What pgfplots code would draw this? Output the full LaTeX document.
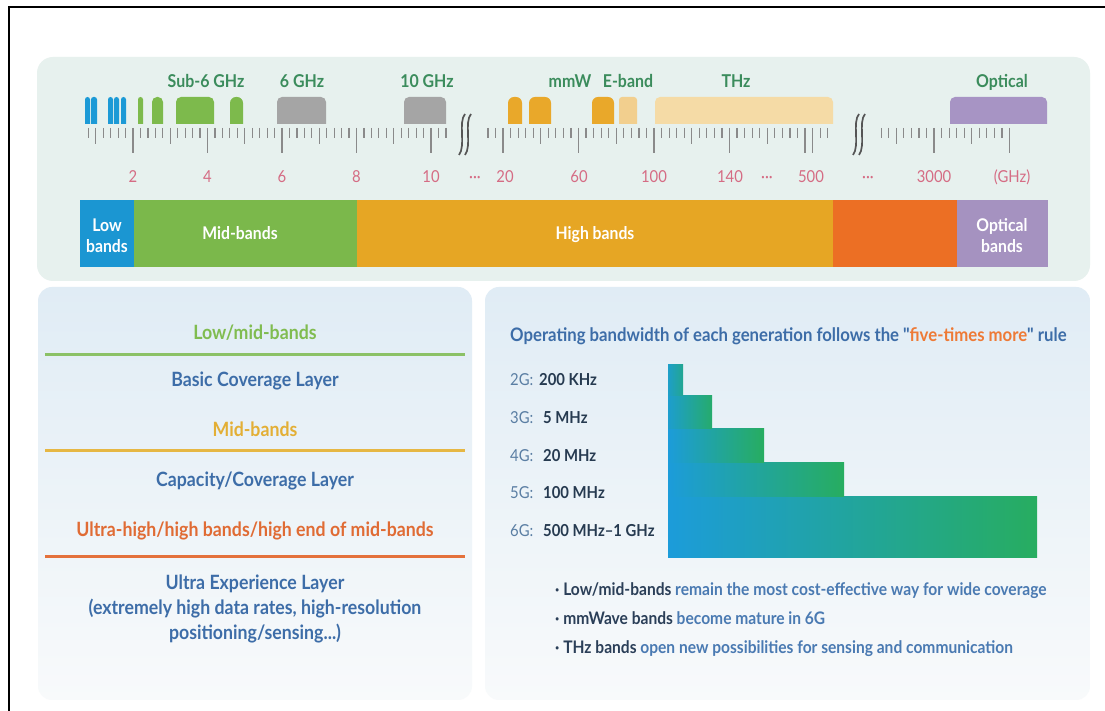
\documentclass[border=0pt]{standalone}
\usepackage{fontspec}
\setmainfont{Lato}[FakeStretch=0.9, Ligatures=TeXOff]
\usepackage{pgfplots}
\pgfplotsset{compat=1.18}
\definecolor{mint}{HTML}{E7F1EE}
\definecolor{lpTop}{HTML}{E0ECF5}
\definecolor{lpBot}{HTML}{F8FAFB}
\definecolor{tickc}{HTML}{8A8A8A}
\definecolor{breakc}{HTML}{555555}
\definecolor{ticklab}{HTML}{D56C84}
\definecolor{toplab}{HTML}{3B8C5C}
\definecolor{bblue}{HTML}{1C9AD6}
\definecolor{bgreen}{HTML}{7DBA4C}
\definecolor{bgrey}{HTML}{A5A5A5}
\definecolor{borange}{HTML}{E9A82A}
\definecolor{blight}{HTML}{F2CF8E}
\definecolor{bthz}{HTML}{F5DBA6}
\definecolor{bpurple}{HTML}{A794C4}
\definecolor{catlow}{HTML}{1B96D2}
\definecolor{catmid}{HTML}{7BB84B}
\definecolor{cathigh}{HTML}{E6A624}
\definecolor{catultra}{HTML}{EC6F24}
\definecolor{catopt}{HTML}{A592C0}
\definecolor{txtblue}{HTML}{3D6DA8}
\definecolor{txtgreen}{HTML}{80BC50}
\definecolor{txtyellow}{HTML}{E3AF35}
\definecolor{txtorange}{HTML}{E06B34}
\definecolor{lngreen}{HTML}{8BC166}
\definecolor{lnyellow}{HTML}{E6B743}
\definecolor{lnorange}{HTML}{E4713C}
\definecolor{genlab}{HTML}{5A7EA3}
\definecolor{genval}{HTML}{263A50}
\definecolor{barblue}{HTML}{1C9CDA}
\definecolor{bargreen}{HTML}{27AD60}
\definecolor{five}{HTML}{EE7A36}
\definecolor{bulletdark}{HTML}{2B3F58}
\definecolor{bulletblue}{HTML}{4A7AB2}
\newcommand{\fs}[1]{\fontsize{#1}{#1}\selectfont}
\newcommand{\blk}[4]{\addplot[draw=none,fill=#1,rounded corners=#4] coordinates {(#2,124) (#2,97) (#3,97) (#3,124)};}
\newcommand{\cat}[3]{\addplot[draw=none,fill=#1] coordinates {(#2,200) (#2,267) (#3,267) (#3,200)};}
\begin{document}
\begin{tikzpicture}[every node/.style={inner sep=0pt}]
\begin{scope}[x=1pt,y=-1pt,yshift=711pt]
 \path[use as bounding box, fill=white] (0,0) rectangle (1105,711);
 \fill[mint, rounded corners=16pt] (37,57) rectangle (1090,281);
 \shade[rounded corners=14pt, top color=lpTop, bottom color=lpBot] (38,287) rectangle (472,700);
 \shade[rounded corners=14pt, top color=lpTop, bottom color=lpBot] (485,287) rectangle (1090,700);
 \draw[line width=2pt] (9,711) -- (9,7) -- (1105,7);
 % ruler segment 1
 \foreach \k in {4,...,52}{
   \pgfmathsetmacro\xx{58.5+7.45*\k}
   \pgfmathsetmacro\len{ifthenelse(mod(\k,10)==0,153,ifthenelse(mod(\k,5)==0,144,138))}
   \draw[tickc, line width=1.2pt] (\xx,128) -- (\xx,\len);
 }
 % ruler segment 2
 \foreach \k in {-2,...,43}{
   \pgfmathsetmacro\xx{503+7.55*\k}
   \pgfmathsetmacro\len{ifthenelse(\k==41,153,ifthenelse(mod(\k,10)==0,153,ifthenelse(mod(\k,5)==0,144,138)))}
   \draw[tickc, line width=1.2pt] (\xx,128) -- (\xx,\len);
 }
 % ruler segment 3
 \foreach \k in {-7,...,10}{
   \pgfmathsetmacro\xx{934+7.55*\k}
   \pgfmathsetmacro\len{ifthenelse(mod(\k,10)==0,153,ifthenelse(mod(\k,5)==0,144,138))}
   \draw[tickc, line width=1.2pt] (\xx,128) -- (\xx,\len);
 }
 % breaks
 \foreach \bx in {459,465,853,859}{
   \draw[breakc, line width=1.7pt] (\bx,155) .. controls (\bx+7,146) and (\bx-1,122) .. (\bx+6,114);
 }
 % left panel rules
 \draw[lngreen, line width=3pt] (45,355) -- (465,355);
 \draw[lnyellow, line width=3pt] (45,451) -- (465,451);
 \draw[lnorange, line width=3pt] (45,557) -- (465,557);
\end{scope}

% spectrum blocks and band categories
\begin{axis}[at={(0pt,711pt)}, anchor=origin, scale only axis, width=1105pt, height=711pt,
  xmin=0, xmax=1105, ymin=0, ymax=711, y dir=reverse, hide axis, clip=false]
 \blk{bblue}{85}{90}{2.5pt}
 \blk{bblue}{91}{97}{2.5pt}
 \blk{bblue}{108}{113}{2.5pt}
 \blk{bblue}{114}{119}{2.5pt}
 \blk{bblue}{121}{126}{2.5pt}
 \blk{bgreen}{138}{143}{2.5pt}
 \blk{bgreen}{152}{163}{5pt}
 \blk{bgreen}{176}{214}{5pt}
 \blk{bgreen}{230}{243}{6pt}
 \blk{bgrey}{277}{326}{5pt}
 \blk{bgrey}{404}{446}{5pt}
 \blk{borange}{508}{522}{6pt}
 \blk{borange}{529}{551}{6pt}
 \blk{borange}{592}{614}{6pt}
 \blk{blight}{619}{637}{3pt}
 \blk{bthz}{655}{833}{5pt}
 \blk{bpurple}{950}{1047}{5pt}
 \cat{catlow}{80}{134}
 \cat{catmid}{134}{357}
 \cat{cathigh}{357}{833}
 \cat{catultra}{833}{957}
 \cat{catopt}{957}{1048}
\end{axis}

% bandwidth staircase
\begin{axis}[at={(668pt,153pt)}, anchor=origin, scale only axis, width=369pt, height=193pt,
  xmin=0, xmax=369, ymin=0, ymax=193, hide axis, clip=false]
 \addplot[xbar interval, draw=none, left color=barblue, right color=bargreen] coordinates {(369,0) (369,61)};
 \addplot[xbar interval, draw=none, left color=barblue, right color=bargreen] coordinates {(176,61) (176,95)};
 \addplot[xbar interval, draw=none, left color=barblue, right color=bargreen] coordinates {(96,95) (96,129)};
 \addplot[xbar interval, draw=none, left color=barblue!90!bargreen, right color=bargreen!90!barblue] coordinates {(44,129) (44,162)};
 \addplot[xbar interval, draw=none, left color=barblue!85!bargreen, right color=bargreen!60!barblue] coordinates {(15,162) (15,193)};
\end{axis}

\begin{scope}[x=1pt,y=-1pt,yshift=711pt]
 % top labels
 \begin{scope}[every node/.style={inner sep=0pt, anchor=base, text=toplab, font=\fs{17.7}\bfseries}]
  \node at (206,88) {Sub-6 GHz};
  \node at (302,88) {6 GHz};
  \node at (427,88) {10 GHz};
  \node at (570,88) {mmW};
  \node at (628,88) {E-band};
  \node at (736,88) {THz};
  \node at (1002,88) {Optical};
 \end{scope}
 % tick labels
 \begin{scope}[every node/.style={inner sep=0pt, anchor=base, text=ticklab, font=\fs{16.5}}]
  \node at (133,183) {2};
  \node at (207.5,183) {4};
  \node at (282,183) {6};
  \node at (356.5,183) {8};
  \node at (431,183) {10};
  \node at (475,183) {···};
  \node at (505,183) {20};
  \node at (579,183) {60};
  \node at (654,183) {100};
  \node at (730,183) {140};
  \node at (767,183) {···};
  \node at (811,183) {500};
  \node at (868,183) {···};
  \node at (934,183) {3000};
  \node at (1012,183) {(GHz)};
 \end{scope}
 % category labels
 \begin{scope}[every node/.style={inner sep=0pt, anchor=base, text=white, font=\fs{17.5}\bfseries}]
  \node at (107,232) {Low};
  \node at (107,253) {bands};
  \node at (240,240) {Mid-bands};
  \node at (595,240) {High bands};
  \node at (1002,232) {Optical};
  \node at (1002,253) {bands};
 \end{scope}
 % left panel
 \begin{scope}[every node/.style={inner sep=0pt, anchor=base, font=\fs{19.7}\bfseries}]
  \node[text=txtgreen] at (255,340) {Low/mid-bands};
  \node[text=txtblue] at (255,387) {Basic Coverage Layer};
  \node[text=txtyellow] at (255,437) {Mid-bands};
  \node[text=txtblue] at (255,487) {Capacity/Coverage Layer};
  \node[text=txtorange] at (255,537) {Ultra-high/high bands/high end of mid-bands};
  \node[text=txtblue] at (255,590) {Ultra Experience Layer};
  \node[text=txtblue] at (255,615) {(extremely high data rates, high-resolution};
  \node[text=txtblue] at (255,640) {positioning/sensing...)};
 \end{scope}
 % right panel
 \node[anchor=base west, font=\fs{18.6}\bfseries, text=txtblue] at (510,342)
   {Operating bandwidth of each generation follows the "\textcolor{five}{five-times more}" rule};
 \begin{scope}[every node/.style={inner sep=0pt, anchor=base west, font=\fs{16.5}}]
  \node[text=genlab] at (510,386) {2G:};
  \node[text=genval, font=\fs{16.5}\bfseries] at (539,386) {200 KHz};
  \node[text=genlab] at (510,424) {3G:};
  \node[text=genval, font=\fs{16.5}\bfseries] at (543,424) {5 MHz};
  \node[text=genlab] at (510,462) {4G:};
  \node[text=genval, font=\fs{16.5}\bfseries] at (543,462) {20 MHz};
  \node[text=genlab] at (510,499) {5G:};
  \node[text=genval, font=\fs{16.5}\bfseries] at (543,499) {100 MHz};
  \node[text=genlab] at (510,537) {6G:};
  \node[text=genval, font=\fs{16.5}\bfseries] at (543,537) {500 MHz–1 GHz};
 \end{scope}
 \begin{scope}[every node/.style={inner sep=0pt, anchor=base west, font=\fs{17.3}\bfseries}]
  \node at (555,596) {\textcolor{bulletdark}{· Low/mid-bands} \textcolor{bulletblue}{remain the most cost-effective way for wide coverage}};
  \node at (555,625) {\textcolor{bulletdark}{· mmWave bands} \textcolor{bulletblue}{become mature in 6G}};
  \node at (555,654) {\textcolor{bulletdark}{· THz bands} \textcolor{bulletblue}{open new possibilities for sensing and communication}};
 \end{scope}
\end{scope}
\end{tikzpicture}
\end{document}
